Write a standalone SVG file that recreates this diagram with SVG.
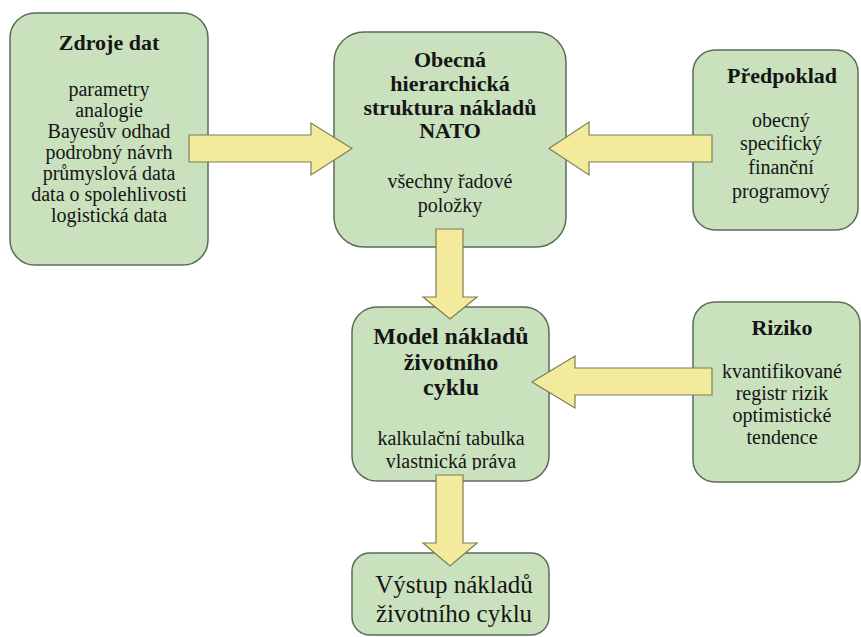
<svg xmlns="http://www.w3.org/2000/svg" width="861" height="637" viewBox="0 0 861 637">
<style>
.box{fill:#c9e2bd;stroke:#5b6b57;stroke-width:1.5}
.arr{fill:#f3eb9b;stroke:#7d7d55;stroke-width:1.2;stroke-linejoin:miter}
.txt text{font-family:'Liberation Serif','DejaVu Serif','Times New Roman',serif;fill:#151515;text-anchor:middle}
.t{font-weight:bold;font-size:22px}
.b{font-size:20px}
.m{font-weight:bold;font-size:24px}
.o{font-size:25px}
</style>
<defs>
<clipPath id="clipModel"><rect x="340" y="300" width="220" height="170"/></clipPath>
</defs>
<rect width="861" height="637" fill="#ffffff"/>
<g id="zdroje-dat" class="txt" font-family="Liberation Serif, serif">
<rect class="box" x="10" y="13" width="198" height="252" rx="25"/>
<text class="t" x="109" y="50">Zdroje dat</text>
<text class="b" x="109" y="96">parametry</text>
<text class="b" x="109" y="117">analogie</text>
<text class="b" x="109" y="138">Bayesův odhad</text>
<text class="b" x="109" y="159">podrobný návrh</text>
<text class="b" x="109" y="180">průmyslová data</text>
<text class="b" x="109" y="201">data o spolehlivosti</text>
<text class="b" x="109" y="222">logistická data</text>
</g>
<g id="obecna-struktura" class="txt" font-family="Liberation Serif, serif">
<rect class="box" x="334" y="32" width="232" height="215" rx="30"/>
<text class="t" x="450" y="67">Obecná</text>
<text class="t" x="450" y="91">hierarchická</text>
<text class="t" x="450" y="115">struktura nákladů</text>
<text class="t" x="450" y="138">NATO</text>
<text class="b" x="450" y="188">všechny řadové</text>
<text class="b" x="450" y="212">položky</text>
</g>
<g id="predpoklad" class="txt" font-family="Liberation Serif, serif">
<rect class="box" x="693" y="50" width="165" height="180" rx="22"/>
<text class="t" x="782" y="83">Předpoklad</text>
<text class="b" x="781" y="127">obecný</text>
<text class="b" x="781" y="150">specifický</text>
<text class="b" x="781" y="174">finanční</text>
<text class="b" x="781" y="198">programový</text>
</g>
<g id="model-nakladu" class="txt" font-family="Liberation Serif, serif">
<rect class="box" x="352" y="307" width="197" height="174" rx="25"/>
<text class="m" x="451" y="344">Model nákladů</text>
<text class="m" x="451" y="370">životního</text>
<text class="m" x="451" y="395">cyklu</text>
<text class="b" x="451" y="445">kalkulační tabulka</text>
<text class="b" x="451" y="468" clip-path="url(#clipModel)">vlastnická práva</text>
</g>
<g id="riziko" class="txt" font-family="Liberation Serif, serif">
<rect class="box" x="693" y="302" width="167" height="180" rx="22"/>
<text class="t" x="782" y="335">Riziko</text>
<text class="b" x="782" y="378">kvantifikované</text>
<text class="b" x="782" y="400">registr rizik</text>
<text class="b" x="782" y="422">optimistické</text>
<text class="b" x="782" y="444">tendence</text>
</g>
<g id="vystup" class="txt" font-family="Liberation Serif, serif">
<rect class="box" x="352" y="553" width="197" height="82" rx="18"/>
<text class="o" x="454" y="593">Výstup nákladů</text>
<text class="o" x="454" y="622">životního cyklu</text>
</g>
<g id="connectors">
<path class="arr" d="M189,135 H311 V123 L352,148.5 L311,175 V162 H189 Z"/>
<path class="arr" d="M712,135 H589 V122 L549,148.5 L589,175 V162 H712 Z"/>
<path class="arr" d="M436,229 V297 H423 L450,319 L477,297 H463 V229 Z"/>
<path class="arr" d="M712,368 H575 V356 L532,382 L575,408 V395 H712 Z"/>
<path class="arr" d="M436,475 V543 H423 L450,566 L477,543 H463 V475 Z"/>
</g>
</svg>
